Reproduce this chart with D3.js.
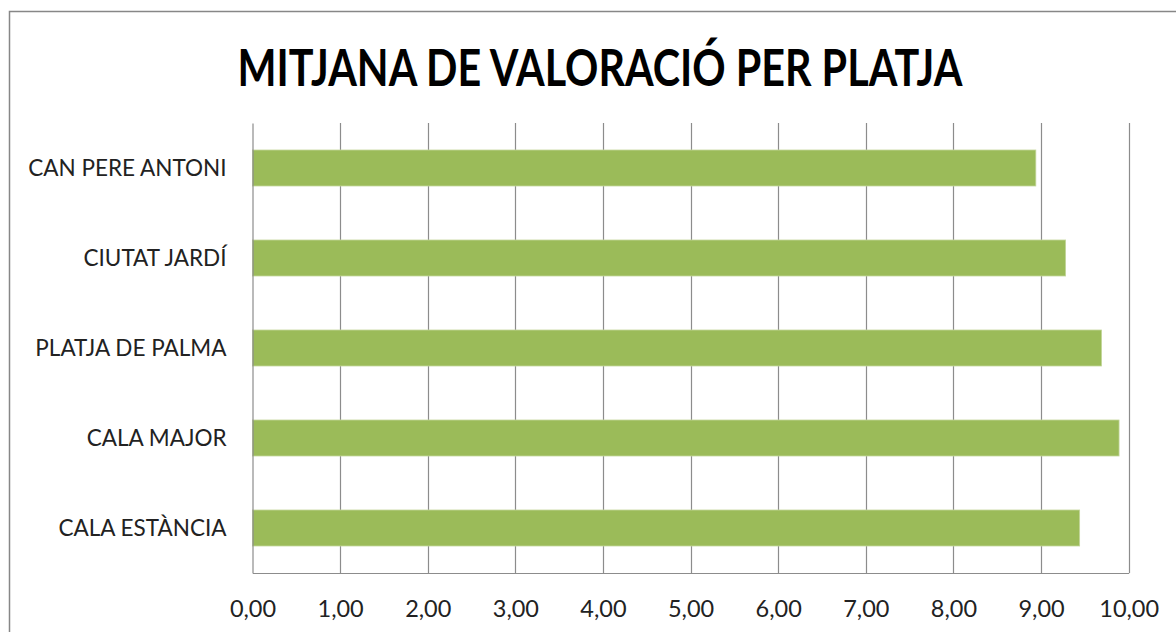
<!DOCTYPE html>
<html><head><meta charset="utf-8">
<script src="https://cdn.jsdelivr.net/npm/d3@7"></script>
<style>body{margin:0;background:#fff;} text{font-family:Lato,"Open Sans",sans-serif;}</style>
</head><body>
<svg id="c" width="1176" height="632"></svg>
<script>
const categories = ["CAN PERE ANTONI","CIUTAT JARDÍ","PLATJA DE PALMA","CALA MAJOR","CALA ESTÀNCIA"];
const values = [8.94, 9.28, 9.69, 9.89, 9.44];
const tickValues = [0,1,2,3,4,5,6,7,8,9,10];
const title = "MITJANA DE VALORACIÓ PER PLATJA";

(function(){
const svg = d3.select("#c");
svg.append("rect").attr("x",9.5).attr("y",11.5).attr("width",1300).attr("height",800)
  .attr("fill","#fff").attr("stroke","#878787").attr("stroke-width",1.5);

const pLeft=252.5, pRight=1128.7, pTop=123, pBottom=573;
const x = d3.scaleLinear().domain([0,10]).range([pLeft,pRight]);
const y = d3.scaleBand().domain(categories).range([pTop,pBottom]).paddingInner(0.6).paddingOuter(0.3);

svg.append("g").selectAll("line").data(tickValues.slice(1)).join("line")
  .attr("x1",d=>Math.round(x(d))+0.5).attr("x2",d=>Math.round(x(d))+0.5)
  .attr("y1",pTop).attr("y2",pBottom).attr("stroke","#8c8c8c").attr("stroke-width",1.2);

svg.append("g").selectAll("rect").data(values).join("rect")
  .attr("x",x(0)).attr("y",(d,i)=>y(categories[i]))
  .attr("width",d=>x(d)-x(0)).attr("height",y.bandwidth())
  .attr("fill","#9bbb59").attr("stroke","#c3d69b").attr("stroke-width",0.8);

const xAxis = d3.axisBottom(x).tickValues(tickValues).tickSize(0).tickPadding(44)
  .tickFormat(d=>d3.format(".2f")(d).replace(".",","));
const gx = svg.append("g").attr("transform",`translate(0,${pBottom})`).call(xAxis);
gx.select(".domain").attr("stroke","#8c8c8c").attr("stroke-width",1.2);
gx.selectAll("text").attr("font-size",23.5).attr("fill","#222").attr("dy","0");

const yAxis = d3.axisLeft(y).tickSize(0).tickPadding(26);
const gy = svg.append("g").attr("transform",`translate(${pLeft},0)`).call(yAxis);
gy.select(".domain").attr("stroke","#8c8c8c").attr("stroke-width",1.2);
gy.selectAll("text").attr("font-size",22.5).attr("fill","#222").attr("dy","0.36em");

svg.append("text").attr("x",600).attr("y",86).attr("text-anchor","middle")
  .attr("font-size",51).attr("font-weight","bold").attr("fill","#000")
  .attr("textLength",725).attr("lengthAdjust","spacingAndGlyphs").text(title);
})();
</script>
</body></html>
